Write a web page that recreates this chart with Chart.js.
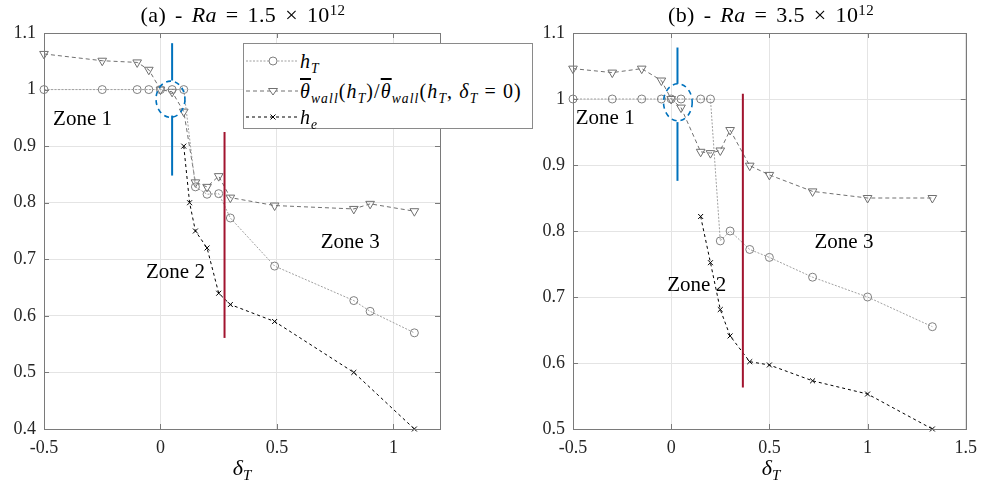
<!DOCTYPE html>
<html><head><meta charset="utf-8">
<script src="https://cdn.jsdelivr.net/npm/chart.js@4"></script>
<style>
body{margin:0;background:#fff;width:985px;height:488px;overflow:hidden;position:relative;font-family:"Liberation Serif",serif;color:#000}
canvas{position:absolute;top:0}
#ca{left:0}
#cb{left:490px}
.title{position:absolute;top:2px;font-size:22px;white-space:nowrap;transform:translateX(-50%);letter-spacing:0.4px;word-spacing:3px}
.xlab{position:absolute;top:455px;font-size:22px;white-space:nowrap;transform:translateX(-50%)}
.sub{font-size:0.68em;vertical-align:-0.35em}
.sup{font-size:0.68em;vertical-align:0.5em}
.legend{position:absolute;left:243px;top:43px;width:288px;height:84px;border:1px solid #8a8a8a;background:#fff;z-index:5}
.row{position:absolute;left:0;height:26px;white-space:nowrap;font-size:20px;letter-spacing:1.1px}
.row svg{position:absolute;left:2px;top:7px}
.row span.t{position:absolute;left:56px;top:0;line-height:26px}
.ov{text-decoration:overline}
</style></head>
<body>
<canvas id="ca" width="490" height="488"></canvas>
<canvas id="cb" width="495" height="488"></canvas>
<div class="title" style="left:243px">(a) - <i>Ra</i> = 1.5 × 10<span class="sup">12</span></div>
<div class="title" style="left:771px">(b) - <i>Ra</i> = 3.5 × 10<span class="sup">12</span></div>
<div class="xlab" style="left:242px"><i>δ</i><span class="sub"><i>T</i></span></div>
<div class="xlab" style="left:771px"><i>δ</i><span class="sub"><i>T</i></span></div>
<div class="legend">
  <div class="row" style="top:4px"><svg width="52" height="12"><line x1="0" y1="6" x2="52" y2="6" stroke="#a0a0a0" stroke-width="1" stroke-dasharray="2,1.5"/><circle cx="27" cy="6" r="4" fill="#fff" stroke="#808080"/></svg><span class="t"><i>h</i><span class="sub"><i>T</i></span></span></div>
  <div class="row" style="top:34px"><svg width="52" height="12"><line x1="0" y1="6" x2="52" y2="6" stroke="#707070" stroke-width="1" stroke-dasharray="4,3"/><polygon points="22.5,3.5 31.5,3.5 27,10" fill="#fff" stroke="#707070"/></svg><span class="t"><i class="ov">θ</i><span class="sub"><i>wall</i></span>(<i>h</i><span class="sub"><i>T</i></span>)/<i class="ov">θ</i><span class="sub"><i>wall</i></span>(<i>h</i><span class="sub"><i>T</i></span>, <i>δ</i><span class="sub"><i>T</i></span> = 0)</span></div>
  <div class="row" style="top:60px"><svg width="52" height="12"><line x1="0" y1="6" x2="52" y2="6" stroke="#000" stroke-width="1" stroke-dasharray="3,3"/><path d="M24.5,3.5 L29.5,8.5 M29.5,3.5 L24.5,8.5" stroke="#000" stroke-width="1"/></svg><span class="t"><i>h</i><span class="sub"><i>e</i></span></span></div>
</div>
<script>
// ---------- Panel (a) data: Ra = 1.5e12 ----------
const xA_hT    = [-0.5,-0.25,-0.1,-0.05,0,0.05,0.1,0.15,0.2,0.25,0.3,0.49,0.83,0.9,1.09];
const yA_hT    = [1,1,1,1,1,1,1,0.828,0.815,0.816,0.773,0.688,0.627,0.608,0.57];
const xA_th    = [-0.5,-0.25,-0.1,-0.05,0,0.05,0.1,0.15,0.2,0.25,0.3,0.49,0.83,0.9,1.09];
const yA_th    = [1.063,1.051,1.048,1.035,1.0,0.996,0.961,0.836,0.828,0.847,0.809,0.795,0.789,0.798,0.785];
const xA_he    = [0.1,0.125,0.15,0.2,0.25,0.3,0.49,0.83,1.09];
const yA_he    = [0.9,0.8,0.75,0.72,0.64,0.62,0.59,0.5,0.4];
const xTicksA  = [-0.5,0,0.5,1];
const yTicksA  = [0.4,0.5,0.6,0.7,0.8,0.9,1.0,1.1];

// ---------- Panel (b) data: Ra = 3.5e12 ----------
const xB_hT    = [-0.5,-0.3,-0.15,-0.05,0,0.05,0.15,0.2,0.25,0.3,0.4,0.5,0.72,1.0,1.33];
const yB_hT    = [1,1,1,1,1,1,1,1,0.785,0.8,0.772,0.76,0.73,0.70,0.655];
const xB_th    = [-0.5,-0.3,-0.15,-0.05,0,0.05,0.15,0.2,0.25,0.3,0.4,0.5,0.72,1.0,1.33];
const yB_th    = [1.046,1.040,1.046,1.028,1.0,0.987,0.92,0.918,0.922,0.953,0.899,0.885,0.86,0.85,0.85];
const xB_he    = [0.15,0.2,0.25,0.3,0.4,0.5,0.72,1.0,1.33];
const yB_he    = [0.822,0.752,0.681,0.641,0.602,0.597,0.573,0.553,0.5];
const xTicksB  = [-0.5,0,0.5,1,1.5];
const yTicksB  = [0.5,0.6,0.7,0.8,0.9,1.0,1.1];

// ---------- annotations (data coordinates) ----------
const zonesA = [{t:'Zone 1',x:-0.461,y:0.947},{t:'Zone 2',x:-0.062,y:0.676},{t:'Zone 3',x:0.688,y:0.73}];
const zonesB = [{t:'Zone 1',x:-0.486,y:0.97},{t:'Zone 2',x:-0.02,y:0.717},{t:'Zone 3',x:0.73,y:0.783}];
const blueA  = {x:0.05, segs:[[1.082,1.016],[0.954,0.848]]};
const blueB  = {x:0.032, segs:[[1.078,1.023],[0.965,0.876]]};
const ellA   = {x:0.043, y:0.983, rx:0.062, ry:0.032};
const ellB   = {x:0.034, y:0.995, rx:0.073, ry:0.028};
const redA   = {x:0.275, y0:0.925, y1:0.561};
const redB   = {x:0.365, y0:1.008, y1:0.563};

const zip = (xs,ys)=>xs.map((v,i)=>({x:v,y:ys[i]}));
const fmt = v=>String(Math.round(v*10)/10);

const framePlugin = {
  id:'frame',
  afterDatasetsDraw(chart, args, o){
    const {ctx, chartArea:a, scales:{x,y}} = chart;
    ctx.save();
    ctx.strokeStyle='#0072BD'; ctx.lineWidth=2;
    o.blue.segs.forEach(s=>{
      ctx.beginPath();
      ctx.moveTo(x.getPixelForValue(o.blue.x), y.getPixelForValue(s[0]));
      ctx.lineTo(x.getPixelForValue(o.blue.x), y.getPixelForValue(s[1]));
      ctx.stroke();
    });
    ctx.setLineDash([5,4]); ctx.lineWidth=1.6;
    const cx=x.getPixelForValue(o.ell.x), cy=y.getPixelForValue(o.ell.y);
    const rx=Math.abs(x.getPixelForValue(o.ell.x+o.ell.rx)-cx), ry=Math.abs(y.getPixelForValue(o.ell.y+o.ell.ry)-cy);
    ctx.beginPath(); ctx.ellipse(cx,cy,rx,ry,0,0,Math.PI*2); ctx.stroke();
    ctx.setLineDash([]);
    ctx.strokeStyle='#A2142F'; ctx.lineWidth=2;
    ctx.beginPath();
    ctx.moveTo(x.getPixelForValue(o.red.x), y.getPixelForValue(o.red.y0));
    ctx.lineTo(x.getPixelForValue(o.red.x), y.getPixelForValue(o.red.y1));
    ctx.stroke();
    ctx.fillStyle='#000'; ctx.font='21px "Liberation Serif"'; ctx.textAlign='left'; ctx.textBaseline='middle';
    o.zones.forEach(z=>ctx.fillText(z.t, x.getPixelForValue(z.x), y.getPixelForValue(z.y)));
    ctx.restore();
  },
  afterDraw(chart){
    const {ctx, chartArea:a, scales:{x,y}} = chart;
    ctx.save();
    ctx.strokeStyle='#7a7a7a'; ctx.lineWidth=1;
    ctx.strokeRect(Math.round(a.left)+0.5, Math.round(a.top)+0.5, Math.round(a.right-a.left), Math.round(a.bottom-a.top));
    ctx.beginPath();
    x.ticks.forEach(t=>{const p=Math.round(x.getPixelForValue(t.value))+0.5;
      ctx.moveTo(p,a.bottom); ctx.lineTo(p,a.bottom-5); ctx.moveTo(p,a.top); ctx.lineTo(p,a.top+5);});
    y.ticks.forEach(t=>{const p=Math.round(y.getPixelForValue(t.value))+0.5;
      ctx.moveTo(a.left,p); ctx.lineTo(a.left+5,p); ctx.moveTo(a.right,p); ctx.lineTo(a.right-5,p);});
    ctx.stroke();
    ctx.restore();
  }
};

function makeChart(id, d, opt){
  const ds = [
    {label:'hT', data:zip(d.xh,d.yh), showLine:true, clip:false, borderColor:'#a0a0a0', borderWidth:1, borderDash:[2,1.5],
     pointStyle:'circle', pointRadius:4, pointBorderColor:'#808080', pointBackgroundColor:'rgba(255,255,255,0)', pointBorderWidth:1},
    {label:'theta', data:zip(d.xt,d.yt), showLine:true, clip:false, borderColor:'#707070', borderWidth:1, borderDash:[4,3],
     pointStyle:'triangle', pointRotation:180, pointRadius:5, pointBorderColor:'#707070', pointBackgroundColor:'rgba(255,255,255,0)', pointBorderWidth:1},
    {label:'he', data:zip(d.xe,d.ye), showLine:true, clip:false, borderColor:'#000', borderWidth:1, borderDash:[3,3],
     pointStyle:'crossRot', pointRadius:3.5, pointBorderColor:'#000', pointBorderWidth:1}
  ];
  return new Chart(document.getElementById(id), {
    type:'scatter',
    data:{datasets:ds},
    plugins:[framePlugin],
    options:{
      responsive:false, animation:false, devicePixelRatio:1,
      layout:{padding:{top:33,right:opt.padR,left:0,bottom:0}},
      plugins:{legend:{display:false}, tooltip:{enabled:false}, title:{display:false},
        frame:{zones:opt.zones, blue:opt.blue, ell:opt.ell, red:opt.red}},
      scales:{
        x:{type:'linear', min:opt.xmin, max:opt.xmax,
           afterBuildTicks:s=>{s.ticks=opt.xt.map(v=>({value:v}));},
           afterFit:s=>{s.height=59;},
           grid:{color:'#e4e4e4', drawTicks:false}, border:{display:false},
           ticks:{padding:8, color:'#262626', font:{family:'Liberation Serif', size:18}, callback:v=>fmt(v), maxRotation:0}},
        y:{type:'linear', min:opt.ymin, max:opt.ymax,
           afterBuildTicks:s=>{s.ticks=opt.yt.map(v=>({value:v}));},
           afterFit:s=>{s.width=opt.yw;},
           grid:{color:'#e4e4e4', drawTicks:false}, border:{display:false},
           ticks:{padding:8, color:'#262626', font:{family:'Liberation Serif', size:18}, callback:v=>fmt(v)}}
      }
    }
  });
}

makeChart('ca', {xh:xA_hT,yh:yA_hT,xt:xA_th,yt:yA_th,xe:xA_he,ye:yA_he},
  {padR:50, yw:44, xmin:-0.5, xmax:1.2, ymin:0.4, ymax:1.1, xt:xTicksA, yt:yTicksA, zones:zonesA, blue:blueA, ell:ellA, red:redA});
makeChart('cb', {xh:xB_hT,yh:yB_hT,xt:xB_th,yt:yB_th,xe:xB_he,ye:yB_he},
  {padR:15, yw:83, xmin:-0.5, xmax:1.5, ymin:0.5, ymax:1.1, xt:xTicksB, yt:yTicksB, zones:zonesB, blue:blueB, ell:ellB, red:redB});
</script>
</body></html>
